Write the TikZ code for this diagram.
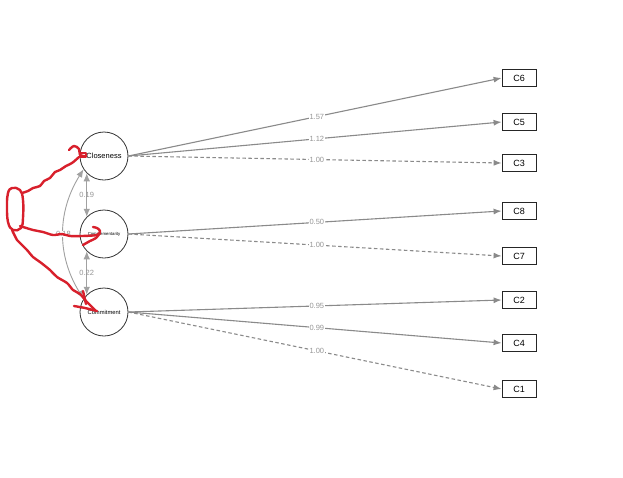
\documentclass[tikz,border=0pt]{standalone}
\usepackage{fontspec}
\setmainfont{Liberation Sans}
\usetikzlibrary{arrows.meta}
\definecolor{edgegray}{HTML}{8A8A8A}
\definecolor{labgray}{HTML}{969696}
\definecolor{scribble}{HTML}{D8202C}
\begin{document}
\begin{tikzpicture}[x=1pt,y=-1pt,
  latent/.style={circle,draw=black!80,line width=0.8pt,minimum size=48pt,inner sep=0pt},
  manifest/.style={rectangle,draw=black!85,line width=0.8pt,minimum width=34pt,minimum height=17pt,inner sep=0pt,font=\fontsize{9}{10}\selectfont},
  load/.style={draw=edgegray,line width=1.1pt,-{Latex[length=8pt,width=6pt]}},
  fixed/.style={load,dash pattern=on 3.5pt off 2.5pt},
  covar/.style={draw=edgegray!80,line width=0.9pt,{Latex[length=8pt,width=6.5pt]}-{Latex[length=8pt,width=6.5pt]}},
  elab/.style={fill=white,inner sep=0.6pt,text=labgray,font=\fontsize{7.5}{8}\selectfont},
  redline/.style={draw=scribble,line width=2.4pt,line cap=round,line join=round}]
\useasboundingbox (0,0) rectangle (623,477);
\fill[white] (0,0) rectangle (623,477);
% latent variables
\node[latent,font=\fontsize{7.5}{8}\selectfont] (clo) at (104,156) {Closeness};
\node[latent,font=\fontsize{4.3}{5}\selectfont] (cmp) at (104,234) {Complementarity};
\node[latent,font=\fontsize{5.8}{6}\selectfont] (com) at (104,312) {Commitment};
% indicators
\node[manifest] (c6) at (519,78) {C6};
\node[manifest] (c5) at (519,122) {C5};
\node[manifest] (c3) at (519,163) {C3};
\node[manifest] (c8) at (519,211) {C8};
\node[manifest] (c7) at (519,256) {C7};
\node[manifest] (c2) at (519,300) {C2};
\node[manifest] (c4) at (519,343) {C4};
\node[manifest] (c1) at (519,389) {C1};
% loadings
\draw[load] (clo.east) -- node[elab,pos=0.505] {1.57} (c6.west);
\draw[load] (clo.east) -- node[elab,pos=0.505] {1.12} (c5.west);
\draw[fixed] (clo.east) -- node[elab,pos=0.505] {1.00} (c3.west);
\draw[load] (cmp.east) -- node[elab,pos=0.505] {0.50} (c8.west);
\draw[fixed] (cmp.east) -- node[elab,pos=0.505] {1.00} (c7.west);
\draw[load] (com.east) -- node[elab,pos=0.505] {0.95} (c2.west);
\draw[load] (com.east) -- node[elab,pos=0.505] {0.99} (c4.west);
\draw[fixed] (com.east) -- node[elab,pos=0.505] {1.00} (c1.west);
% covariances
\draw[covar] (clo.225) -- node[elab,fill=none] {0.19} (cmp.135);
\draw[covar] (cmp.225) -- node[elab,fill=none] {0.22} (com.135);
\draw[covar] (clo.213) to[bend right=32] node[elab] {0.18} (com.147);
% red hand-drawn annotation
\draw[redline] plot[smooth,tension=0.6] coordinates {(85,156) (80,155) (79,149) (74,146) (69,150)};
\draw[redline] (80,153) rectangle (86,157);
\draw[redline] plot[smooth,tension=0.6] coordinates {(79,157) (72,163) (66,166) (60,170) (55,172) (50,178) (44,181) (40,186) (33,188) (28,191) (22,193)};
\draw[redline] plot[smooth cycle,tension=0.7] coordinates {(12,188) (20,190) (23,200) (23,218) (21,228) (13,230) (8,222) (7,205) (8,193)};
\draw[redline] plot[smooth,tension=0.5] coordinates {(20,226) (33,230) (43,232) (53,235) (62,234) (70,236) (82,236) (97,235) (100,231) (97,228) (93,227)};
\draw[redline] plot[smooth,tension=0.6] coordinates {(100,233) (96,238) (90,241) (83,245)};
\draw[redline] plot[smooth,tension=0.5] coordinates {(12,230) (17,240) (20,243) (27,250) (33,257) (40,262) (50,270) (57,277) (67,283) (73,290) (80,294) (86,301) (90,305) (95,310)};
\draw[redline] plot[smooth,tension=0.4] coordinates {(74,306) (85,308) (97,311)};
\draw[redline] (83,291) -- (86,304);
\end{tikzpicture}
\end{document}
